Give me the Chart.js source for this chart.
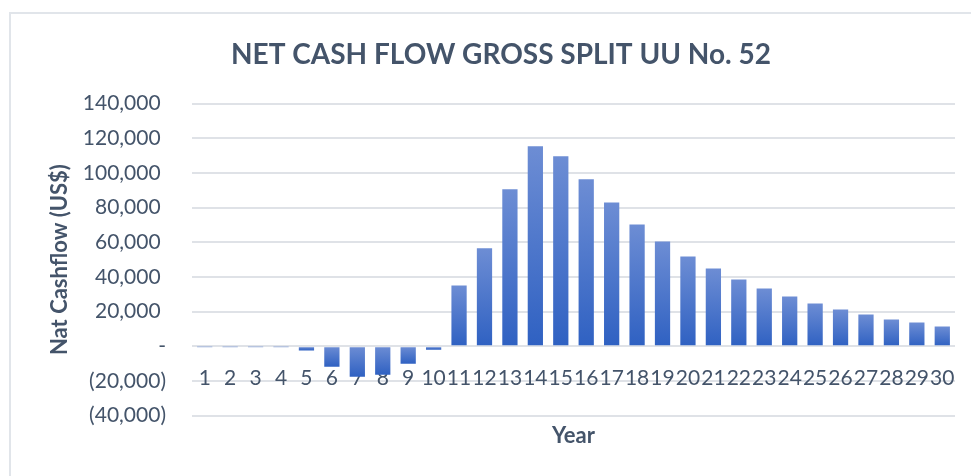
<!DOCTYPE html>
<html>
<head>
<meta charset="utf-8">
<script src="https://cdn.jsdelivr.net/npm/chart.js@4"></script>
<style>
  html, body { margin: 0; padding: 0; background: #fff; overflow: hidden; }
  #frame {
    position: absolute; left: 9px; top: 12px; width: 980px; height: 480px;
    border-left: 2px solid #e1e5ea; border-top: 2px solid #e1e5ea;
  }
  #cashflow { position: absolute; left: 0; top: 0; }
</style>
</head>
<body>
<div id="frame"></div>
<canvas id="cashflow" width="971" height="476"></canvas>
<script>
const YEARS = [
  "1", "2", "3", "4", "5", "6", "7", "8", "9", "10",
  "11", "12", "13", "14", "15", "16", "17", "18", "19", "20",
  "21", "22", "23", "24", "25", "26", "27", "28", "29", "30",
];

const NET_CASHFLOW = [
  -200, -200, -200, -200, -2500, -11800, -17600, -16400, -10100, -2000,
  35100, 56500, 90600, 115400, 109600, 96300, 83000, 70300, 60500, 51800,
  44900, 38500, 33300, 28700, 24700, 21200, 18300, 15400, 13700, 11400,
];

const Y_MIN = -40000;
const Y_MAX = 140000;
const Y_STEP = 20000;

const TEXT = "#44546A";
const GRID = "#dfe2e7";
const FONT = "Lato, 'Open Sans', sans-serif";

const $ctx = document.getElementById("cashflow");

// Excel style gradient: lighter at the top of every bar, darker at its bottom
function barGradient(context) {
  const chart = context.chart;
  if (!chart.chartArea || !chart.scales.y) return "#4472C4";
  const v = context.raw;
  const y = chart.scales.y;
  const top = y.getPixelForValue(Math.max(v, 0));
  const bottom = y.getPixelForValue(Math.min(v, 0));
  if (bottom - top < 1) return "#8fa6d8";
  const g = chart.ctx.createLinearGradient(0, top, 0, bottom);
  g.addColorStop(0, "#6d8dd4");
  g.addColorStop(1, "#2f61c2");
  return g;
}

function formatTick(value) {
  if (value === 0) return "-";
  const s = Math.abs(value).toLocaleString("en-US");
  return value < 0 ? "(" + s + ")" : s + " ";
}

new Chart($ctx, {
  type: "bar",
  data: {
    labels: YEARS,
    datasets: [
      {
        label: "Net Cashflow",
        data: NET_CASHFLOW,
        backgroundColor: barGradient,
        barPercentage: 0.6,
        categoryPercentage: 1,
      },
    ],
  },
  options: {
    responsive: false,
    animation: false,
    layout: { padding: { left: 47, right: 16, top: 0, bottom: 0 } },
    plugins: {
      legend: { display: false },
      tooltip: { enabled: false },
      title: {
        display: true,
        text: "NET CASH FLOW GROSS SPLIT UU No. 52",
        color: TEXT,
        font: { family: FONT, size: 28, weight: "bold" },
        padding: { top: 38, bottom: 32 },
      },
    },
    scales: {
      x: {
        position: { y: 0 },
        grid: { display: false },
        border: { display: false },
        ticks: {
          color: TEXT,
          font: { family: FONT, size: 21 },
          padding: 11,
          maxRotation: 0,
          autoSkip: false,
        },
      },
      xTitle: {
        type: "category",
        labels: YEARS,
        position: "bottom",
        grid: { display: false, drawTicks: false },
        border: { display: false },
        ticks: { display: false },
        title: {
          display: true,
          text: "Year",
          color: TEXT,
          font: { family: FONT, size: 22, weight: "bold" },
          padding: { top: 7, bottom: 27 },
        },
      },
      y: {
        min: Y_MIN,
        max: Y_MAX,
        grid: { color: GRID, lineWidth: 2, drawTicks: false },
        border: { display: false },
        ticks: {
          stepSize: Y_STEP,
          color: TEXT,
          font: { family: FONT, size: 21 },
          padding: 26,
          callback: formatTick,
        },
        title: {
          display: true,
          text: "Nat Cashflow (US$)",
          color: TEXT,
          font: { family: FONT, size: 22, weight: "bold" },
          padding: { top: 0, bottom: 6 },
        },
        afterFit: (scale) => {
          scale.width = 145;
        },
      },
    },
  },
});
</script>
</body>
</html>
